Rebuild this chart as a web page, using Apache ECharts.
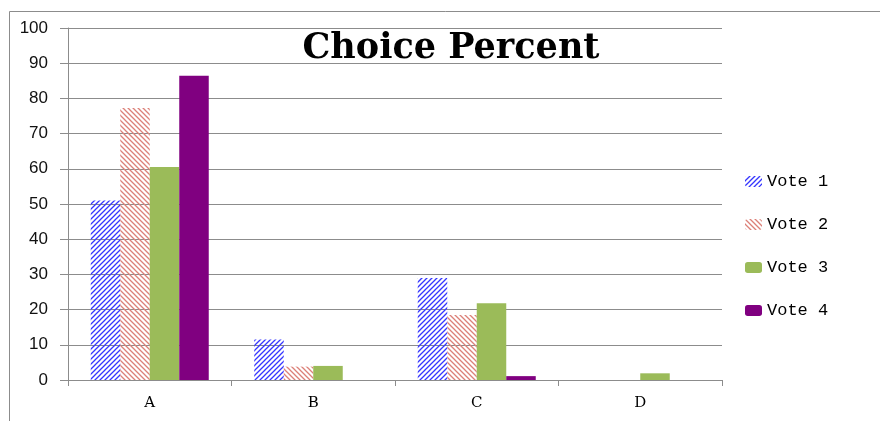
<!DOCTYPE html>
<html><head><meta charset="utf-8">
<script src="https://cdn.jsdelivr.net/npm/echarts@6/dist/echarts.min.js"></script>
<style>html,body{margin:0;padding:0;background:#fff}#c{width:880px;height:421px}</style>
</head><body><div id="c"></div>
<script>
const categories = ['A', 'B', 'C', 'D'];
const seriesNames = ['Vote 1', 'Vote 2', 'Vote 3', 'Vote 4'];
const vote1 = [51, 11.5, 29, 0];
const vote2 = [77.3, 3.8, 18.5, 0];
const vote3 = [60.5, 4, 21.8, 1.9];
const vote4 = [86.4, 0, 1.1, 0];
const yTicks = [0, 10, 20, 30, 40, 50, 60, 70, 80, 90, 100];

function makePattern(color, dir) {
  const s = 5;
  const c = document.createElement('canvas');
  c.width = s; c.height = s;
  const ctx = c.getContext('2d');
  ctx.strokeStyle = color;
  ctx.lineWidth = 1.3;
  ctx.beginPath();
  if (dir === '/') {
    ctx.moveTo(-1, s + 1); ctx.lineTo(s + 1, -1);
    ctx.moveTo(-1, 1); ctx.lineTo(1, -1);
    ctx.moveTo(s - 1, s + 1); ctx.lineTo(s + 1, s - 1);
  } else {
    ctx.moveTo(-1, -1); ctx.lineTo(s + 1, s + 1);
    ctx.moveTo(-1, s - 1); ctx.lineTo(1, s + 1);
    ctx.moveTo(s - 1, -1); ctx.lineTo(s + 1, 1);
  }
  ctx.stroke();
  return { image: c, repeat: 'repeat' };
}

const colors = [makePattern('#3535ff', '/'), makePattern('#dc8078', '\\'), '#9bbb59', '#800080'];
const data = [vote1, vote2, vote3, vote4];

const chart = echarts.init(document.getElementById('c'));
chart.setOption({
  animation: false,
  backgroundColor: '#fff',
  title: {
    text: 'Choice Percent',
    left: 446, top: 26, textAlign: 'center',
    textStyle: { fontFamily: 'DejaVu Serif', fontSize: 35, fontWeight: 'bold', color: '#000' }
  },
  graphic: [{
    type: 'rect', silent: true,
    shape: { x: 9.5, y: 11.5, width: 900, height: 450 },
    style: { fill: 'none', stroke: '#8c8c8c', lineWidth: 1 }
  }],
  legend: {
    orient: 'vertical', left: 740, top: 168,
    itemWidth: 17, itemHeight: 11, itemGap: 26,
    textStyle: { fontFamily: 'Liberation Mono', fontSize: 17, color: '#000' },
    data: seriesNames
  },
  grid: { left: 68, right: 158, top: 28, bottom: 41, containLabel: false },
  xAxis: {
    type: 'category', data: categories,
    axisLine: { lineStyle: { color: '#8c8c8c', width: 1 } },
    axisTick: { show: true, length: 6, lineStyle: { color: '#8c8c8c' } },
    axisLabel: { margin: 16, fontFamily: 'DejaVu Serif', fontSize: 15, color: '#000' }
  },
  yAxis: {
    type: 'value', min: 0, max: 100, interval: 10,
    axisLine: { show: true, lineStyle: { color: '#8c8c8c', width: 1 } },
    axisTick: { show: true, length: 8, lineStyle: { color: '#8c8c8c' } },
    axisLabel: { margin: 20, fontFamily: 'Liberation Sans', fontSize: 17, color: '#111',
      formatter: v => yTicks.includes(v) ? String(v) : '' },
    splitLine: { lineStyle: { color: '#8c8c8c', width: 1 } }
  },
  series: seriesNames.map((n, i) => ({
    name: n, type: 'bar', data: data[i],
    barWidth: 29.5, barGap: '0%',
    itemStyle: { color: colors[i] }
  }))
});
</script></body></html>
